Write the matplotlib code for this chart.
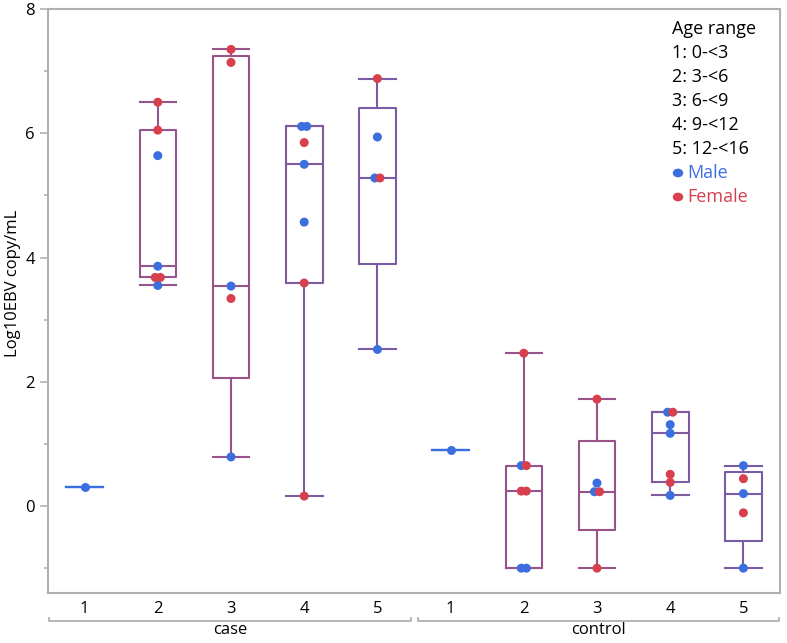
import matplotlib
matplotlib.use('Agg')
import matplotlib.pyplot as plt
import numpy as np
from matplotlib.colors import to_rgb

plt.rcParams['font.family'] = ['Open Sans', 'DejaVu Sans']

# values, one list per box (group, age range)
groups = ['case', 'control']
age_labels = ['1', '2', '3', '4', '5']
legend_lines = ['Age range', '1: 0-<3', '2: 3-<6', '3: 6-<9', '4: 9-<12', '5: 12-<16']

case_vals = [
    [0.30],
    [3.55, 3.68, 3.68, 3.86, 5.64, 6.05, 6.50],
    [0.79, 3.34, 3.54, 7.14, 7.35],
    [0.16, 3.59, 4.57, 5.50, 5.85, 6.11, 6.11],
    [2.52, 5.28, 5.28, 5.94, 6.88],
]
case_sex = [
    ['M'],
    ['M', 'F', 'F', 'M', 'M', 'F', 'F'],
    ['M', 'F', 'M', 'F', 'F'],
    ['F', 'F', 'M', 'M', 'F', 'M', 'M'],
    ['M', 'M', 'F', 'M', 'F'],
]
control_vals = [
    [0.90],
    [-1.0, -1.0, 0.24, 0.24, 0.65, 0.65, 2.46],
    [-1.0, 0.23, 0.23, 0.37, 1.72],
    [0.17, 0.38, 0.51, 1.17, 1.31, 1.51, 1.51],
    [-1.0, -0.11, 0.20, 0.44, 0.65],
]
control_sex = [
    ['M'],
    ['M', 'M', 'F', 'F', 'M', 'F', 'F'],
    ['F', 'M', 'F', 'M', 'F'],
    ['M', 'F', 'F', 'M', 'M', 'M', 'F'],
    ['M', 'F', 'M', 'F', 'M'],
]

MALE = '#3b6fe0'
FEMALE = '#d8404e'


def _box_color(sex):
    frac = sex.count('F') / len(sex)
    b, r = np.array(to_rgb(MALE)), np.array(to_rgb(FEMALE))
    return tuple((1 - frac) * b + frac * r)


def _stats(vals):
    v = np.asarray(vals)
    q1, med, q3 = np.percentile(v, [25, 50, 75], method='weibull') if len(v) > 1 else (v[0],) * 3
    return dict(med=med, q1=q1, q3=q3, whislo=v.min(), whishi=v.max(), fliers=[])


def _dodge(vals, step=0.07):
    # side-by-side offsets for tied values
    off = np.zeros(len(vals))
    vals = np.asarray(vals)
    for u in np.unique(vals):
        idx = np.where(vals == u)[0]
        if len(idx) > 1:
            off[idx] = (np.arange(len(idx)) - (len(idx) - 1) / 2) * step
    return off


fig = plt.figure(figsize=(7.87, 6.43), dpi=100)
ax = fig.add_axes([48 / 787, 1 - 593 / 643, 732 / 787, 584 / 643])

all_vals = case_vals + control_vals
all_sex = case_sex + control_sex
for i, (vals, sex) in enumerate(zip(all_vals, all_sex)):
    pos = i + 1
    c = _box_color(sex)
    lp = dict(color=c, lw=1.5)
    ax.bxp([_stats(vals)], positions=[pos], widths=0.5, showfliers=False,
           boxprops=lp, whiskerprops=lp, capprops=lp, medianprops=lp,
           capwidths=[0.5], manage_ticks=False)
    off = _dodge(vals)
    cols = [MALE if s == 'M' else FEMALE for s in sex]
    ax.scatter(pos + off, vals, s=42, c=cols, zorder=5, linewidths=0)

ax.set_xlim(0.5, 10.5)
ax.set_ylim(-1.4, 8)
ax.set_yticks([0, 2, 4, 6, 8])
ax.set_yticks([-1, 1, 3, 5, 7], minor=True)
ax.set_xticks(np.arange(1, 11))
ax.set_xticklabels(age_labels * 2)
for s in ax.spines.values():
    s.set_color('#b0b0b0')
    s.set_linewidth(1.5)
ax.tick_params(axis='y', which='major', length=6, color='#b0b0b0', width=1.2, labelsize=12)
ax.tick_params(axis='y', which='minor', length=3, color='#b0b0b0', width=1.2)
ax.tick_params(axis='x', length=0, pad=6, labelsize=12)
fig.text(13 / 787, 1 - 283 / 643, 'Log10EBV copy/mL', rotation=90, fontsize=12,
         ha='center', va='center')

# group brackets under the age labels
yb = -28 / 584
up = 3 / 584
for g, (x0, x1) in zip(groups, [(0.52, 5.46), (5.56, 10.48)]):
    ax.plot([x0, x0, x1, x1], [yb + up, yb, yb, yb + up], color='#b0b0b0', lw=1.3,
            transform=ax.get_xaxis_transform(), clip_on=False)
    ax.text((x0 + x1) / 2, yb - 0.002, g, transform=ax.get_xaxis_transform(),
            ha='center', va='top', fontsize=12)

# legend block
lx, ly, dy = 672 / 787, 1 - 29 / 643, 24 / 643
for k, line in enumerate(legend_lines):
    fig.text(lx, ly - k * dy, line, fontsize=13, va='center')
for k, (lab, col) in enumerate([('Male', MALE), ('Female', FEMALE)]):
    y = ly - (len(legend_lines) + k) * dy
    fig.text(lx + 15 / 787, y, lab, fontsize=13, va='center', color=col)
    fig.patches.append(plt.Circle((lx + 6 / 787, y), 4.5 / 787, color=col,
                                  transform=fig.transFigure, figure=fig))

fig.savefig('out.png', dpi=100)
